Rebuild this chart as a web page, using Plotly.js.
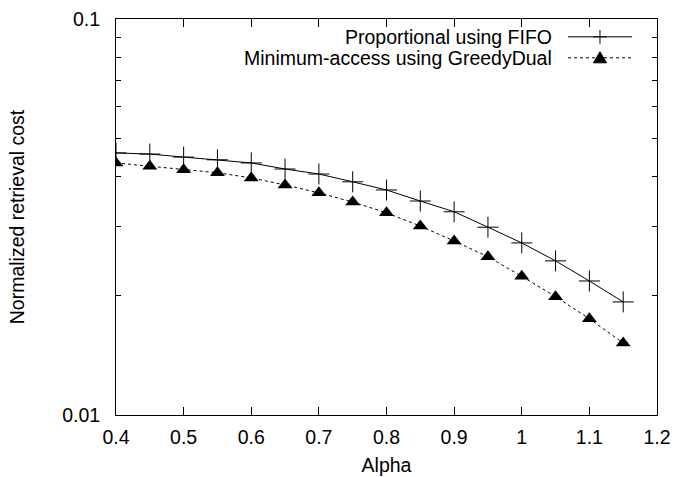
<!DOCTYPE html>
<html>
<head>
<meta charset="utf-8">
<script src="https://cdn.plot.ly/plotly-3.0.1.min.js"></script>
<style>html,body{margin:0;padding:0;background:#fff;}#chart{width:689px;height:477px;}</style>
</head>
<body>
<div id="chart"></div>
<script>
var alpha = [0.4,0.45,0.5,0.55,0.6,0.65,0.7,0.75,0.8,0.85,0.9,0.95,1.0,1.05,1.1,1.15];
var proportionalFIFO = [0.0459,0.0456,0.0448,0.0441,0.0433,0.0418,0.0406,0.0388,0.0370,0.0347,0.0326,0.0298,0.0272,0.0245,0.0218,0.0193];
var minAccessGreedyDual = [0.0433,0.0425,0.0416,0.0409,0.0397,0.0381,0.0364,0.0345,0.0324,0.0300,0.0275,0.0251,0.0224,0.0199,0.0175,0.0152];
var seriesNames = ['Proportional using FIFO','Minimum-access using GreedyDual'];
var xTicks = [0.4,0.5,0.6,0.7,0.8,0.9,1,1.1,1.2];
var xTickText = ['0.4','0.5','0.6','0.7','0.8','0.9','1','1.1','1.2'];
var yTicks = [0.01,0.02,0.03,0.04,0.05,0.06,0.07,0.08,0.09,0.1];
var yTickText = ['0.01','','','','','','','','','0.1'];

var font = {family:'Liberation Sans, Arial, sans-serif', size:19.5, color:'#000'};

var traces = [
  {x:alpha, y:proportionalFIFO, name:seriesNames[0], type:'scatter', mode:'lines+markers',
   line:{color:'#000', width:1}, marker:{symbol:'cross-thin', size:15, line:{color:'#000', width:1}}},
  {x:alpha, y:minAccessGreedyDual, name:seriesNames[1], type:'scatter', mode:'lines+markers',
   line:{color:'#000', width:1, dash:'3px,3px'}, marker:{symbol:'triangle-up', size:13, color:'#000'}}
];

var legY = [0.955, 0.902];
var shapes = [
  {type:'line', xref:'paper', yref:'paper', x0:0.8355, x1:0.954, y0:legY[0], y1:legY[0], line:{color:'#000', width:1}},
  {type:'path', xref:'paper', yref:'paper', xsizemode:'pixel', ysizemode:'pixel', xanchor:0.8946, yanchor:legY[0],
   path:'M -7 0 L 7 0 M 0 -7 L 0 7', line:{color:'#000', width:1}},
  {type:'line', xref:'paper', yref:'paper', x0:0.8355, x1:0.954, y0:legY[1], y1:legY[1], line:{color:'#000', width:1, dash:'3px,3px'}},
  {type:'path', xref:'paper', yref:'paper', xsizemode:'pixel', ysizemode:'pixel', xanchor:0.8946, yanchor:legY[1],
   path:'M -6.5 -5 L 6.5 -5 L 0 6 Z', fillcolor:'#000', line:{color:'#000', width:1}}
];
var annotations = [
  {xref:'paper', yref:'paper', x:0.81, y:legY[0], xanchor:'right', yanchor:'middle', text:seriesNames[0], showarrow:false, font:font},
  {xref:'paper', yref:'paper', x:0.81, y:legY[1], xanchor:'right', yanchor:'middle', text:seriesNames[1], showarrow:false, font:font}
];

var layout = {
  width:689, height:477,
  margin:{l:116, r:32, t:19, b:62},
  paper_bgcolor:'#fff', plot_bgcolor:'#fff',
  showlegend:false,
  font:font,
  xaxis:{range:[0.4,1.2], tickvals:xTicks, ticktext:xTickText, ticks:'inside', ticklen:8, tickcolor:'#000',
    showline:true, linecolor:'#000', linewidth:1, mirror:'allticks', showgrid:false, zeroline:false,
    ticklabelstandoff:5,
    title:{text:'Alpha', font:font, standoff:10}, tickfont:font},
  yaxis:{type:'log', range:[-2,-1], tickvals:yTicks, ticktext:yTickText, ticks:'inside', ticklen:5, tickcolor:'#000',
    showline:true, linecolor:'#000', linewidth:1, mirror:'allticks', showgrid:false, zeroline:false,
    ticklabelstandoff:11,
    title:{text:'Normalized retrieval cost', font:font, standoff:32}, tickfont:font},
  shapes:shapes,
  annotations:annotations
};

Plotly.newPlot('chart', traces, layout, {displayModeBar:false, staticPlot:true});
</script>
</body>
</html>
